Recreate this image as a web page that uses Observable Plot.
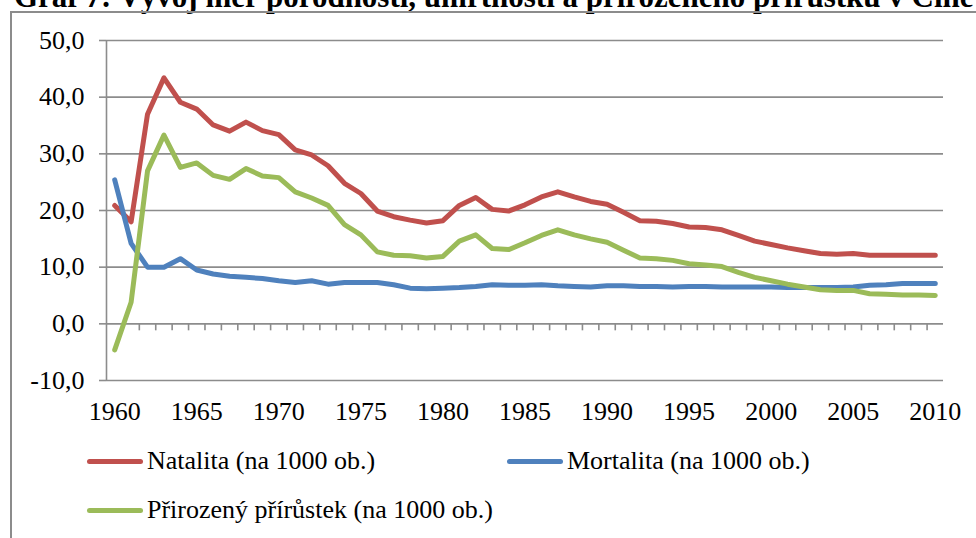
<!DOCTYPE html>
<html>
<head>
<meta charset="utf-8">
<script src="https://cdn.jsdelivr.net/npm/d3@7"></script>
<script src="https://cdn.jsdelivr.net/npm/@observablehq/plot@0.6"></script>
<style>
  html, body { margin: 0; padding: 0; background: #fff; overflow: hidden; width: 976px; height: 538px; }
  body { position: relative; font-family: "Liberation Serif", "Times New Roman", serif; }
  #title { position: absolute; left: 14px; top: -19px; font-size: 31px; font-weight: bold; line-height: 32px; white-space: nowrap; color: #000; }
  #frame { position: absolute; left: 10px; top: 11px; width: 2000px; height: 2000px; border: 2px solid #8c8c8c; box-sizing: border-box; }
  #chart { position: absolute; left: 0; top: 0; }
  .leg { position: absolute; display: flex; align-items: center; font-size: 26px; color: #000; white-space: nowrap; }
  .sw { width: 56px; height: 5px; border-radius: 3px; margin-right: 4px; }
</style>
</head>
<body>
<div id="title">Graf 7: Vývoj měr porodnosti, úmrtnosti a přirozeného přírůstku v Číně</div>
<div id="frame"></div>
<div id="chart"></div>
<div class="leg" style="left:87px; top:446px;"><div class="sw" style="background:#C0504D"></div><span>Natalita (na 1000 ob.)</span></div>
<div class="leg" style="left:507px; top:446px;"><div class="sw" style="background:#4F81BD"></div><span>Mortalita (na 1000 ob.)</span></div>
<div class="leg" style="left:87px; top:495px;"><div class="sw" style="background:#9BBB59"></div><span>Přirozený přírůstek (na 1000 ob.)</span></div>
<script>
const years = d3.range(1960, 2011);
const natalita = [20.9, 18.0, 37.0, 43.4, 39.1, 37.9, 35.1, 34.0, 35.6, 34.1,
  33.4, 30.7, 29.8, 27.9, 24.8, 23.0, 19.9, 18.9, 18.3, 17.8,
  18.2, 20.9, 22.3, 20.2, 19.9, 21.0, 22.4, 23.3, 22.4, 21.6,
  21.1, 19.7, 18.2, 18.1, 17.7, 17.1, 17.0, 16.6, 15.6, 14.6,
  14.0, 13.4, 12.9, 12.4, 12.3, 12.4, 12.1, 12.1, 12.1, 12.1, 12.1];
const mortalita = [25.4, 14.2, 10.0, 10.0, 11.5, 9.5, 8.8, 8.4, 8.2, 8.0,
  7.6, 7.3, 7.6, 7.0, 7.3, 7.3, 7.3, 6.9, 6.3, 6.2,
  6.3, 6.4, 6.6, 6.9, 6.8, 6.8, 6.9, 6.7, 6.6, 6.5,
  6.7, 6.7, 6.6, 6.6, 6.5, 6.6, 6.6, 6.5, 6.5, 6.5,
  6.5, 6.4, 6.4, 6.4, 6.4, 6.5, 6.8, 6.9, 7.1, 7.1, 7.1];
const prirustek = [-4.6, 3.8, 27.0, 33.3, 27.6, 28.4, 26.2, 25.5, 27.4, 26.1,
  25.8, 23.3, 22.2, 20.9, 17.5, 15.7, 12.7, 12.1, 12.0, 11.6,
  11.9, 14.6, 15.7, 13.3, 13.1, 14.3, 15.6, 16.6, 15.7, 15.0,
  14.4, 13.0, 11.6, 11.5, 11.2, 10.6, 10.4, 10.1, 9.1, 8.2,
  7.6, 7.0, 6.5, 6.0, 5.9, 5.9, 5.3, 5.2, 5.1, 5.1, 5.0];
const seriesNames = ["Natalita (na 1000 ob.)", "Mortalita (na 1000 ob.)", "Přirozený přírůstek (na 1000 ob.)"];
const seriesColors = ["#C0504D", "#4F81BD", "#9BBB59"];
const yTicks = [-10, 0, 10, 20, 30, 40, 50];
const xLabels = [1960, 1965, 1970, 1975, 1980, 1985, 1990, 1995, 2000, 2005, 2010];

const xDomain = [years[0] - 0.5, years[years.length - 1] + 0.5];
const boundaries = years.map(y => y + 0.5).slice(0, -1);
const seriesValues = [natalita, mortalita, prirustek];
const data = seriesValues.flatMap((vals, s) => years.map((yr, i) => ({year: yr, value: vals[i], series: seriesNames[s]})));
const fmt = d => d.toFixed(1).replace(".", ",");
const grid = "#8c8c8c";

const chart = Plot.plot({
  width: 976,
  height: 440,
  marginLeft: 106,
  marginRight: 33,
  marginTop: 40,
  marginBottom: 60,
  style: {fontFamily: "'Liberation Serif', 'Times New Roman', serif", fontSize: "26px", color: "#000", background: "transparent", overflow: "visible"},
  x: {type: "linear", domain: xDomain, axis: null},
  y: {domain: [-10, 50], axis: null},
  color: {domain: seriesNames, range: seriesColors},
  marks: [
    Plot.ruleY(yTicks, {y: d => d, stroke: grid, strokeWidth: 1.6}),
    Plot.ruleY(yTicks, {y: d => d, x1: xDomain[0], x2: xDomain[0], insetLeft: -7, stroke: grid, strokeWidth: 1.6}),
    Plot.ruleX([xDomain[0]], {x: d => d, stroke: grid, strokeWidth: 1.6}),
    Plot.ruleX(boundaries, {x: d => d, y1: 0, y2: 0, insetBottom: -7, stroke: grid, strokeWidth: 1.6}),
    Plot.axisY({ticks: yTicks, tickSize: 0, tickPadding: 22, tickFormat: fmt, fill: "#000", label: null}),
    Plot.axisX({ticks: xLabels, tickSize: 0, tickPadding: 21, tickFormat: d => String(d), fill: "#000", label: null}),
    Plot.line(data, {x: "year", y: "value", z: "series", stroke: "series", strokeWidth: 5, strokeLinejoin: "round", strokeLinecap: "round"})
  ]
});
document.getElementById("chart").appendChild(chart);
</script>
</body>
</html>
